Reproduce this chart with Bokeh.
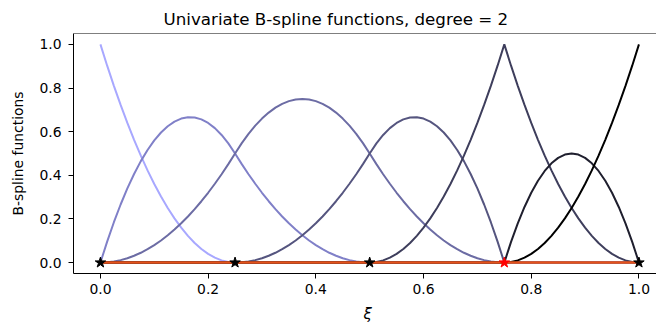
from bokeh.plotting import figure
from bokeh.models import Range1d, FixedTicker, PrintfTickFormatter, Span, Title
from bokeh.embed import file_html
from bokeh.resources import INLINE

# parameter samples
xi = [0.0, 0.0125, 0.025, 0.0375, 0.05, 0.0625, 0.075, 0.0875, 0.1, 0.1125,
      0.125, 0.1375, 0.15, 0.1625, 0.175, 0.1875, 0.2, 0.2125, 0.225, 0.2375,
      0.25, 0.2625, 0.275, 0.2875, 0.3, 0.3125, 0.325, 0.3375, 0.35, 0.3625,
      0.375, 0.3875, 0.4, 0.4125, 0.425, 0.4375, 0.45, 0.4625, 0.475, 0.4875,
      0.5, 0.5125, 0.525, 0.5375, 0.55, 0.5625, 0.575, 0.5875, 0.6, 0.6125,
      0.625, 0.6375, 0.65, 0.6625, 0.675, 0.6875, 0.7, 0.7125, 0.725, 0.7375,
      0.75, 0.7625, 0.775, 0.7875, 0.8, 0.8125, 0.825, 0.8375, 0.85, 0.8625,
      0.875, 0.8875, 0.9, 0.9125, 0.925, 0.9375, 0.95, 0.9625, 0.975, 0.9875,
      1.0]

# B-spline function values (one list per function)
basis0 = [1.0, 0.9025, 0.81, 0.7225, 0.64, 0.5625, 0.49, 0.4225, 0.36, 0.3025,
          0.25, 0.2025, 0.16, 0.1225, 0.09, 0.0625, 0.04, 0.0225, 0.01, 0.0025,
          0.0] + [0.0] * 60
basis1 = [0.0, 0.09625, 0.185, 0.26625, 0.34, 0.40625, 0.465, 0.51625, 0.56, 0.59625,
          0.625, 0.64625, 0.66, 0.66625, 0.665, 0.65625, 0.64, 0.61625, 0.585, 0.54625,
          0.5, 0.45125, 0.405, 0.36125, 0.32, 0.28125, 0.245, 0.21125, 0.18, 0.15125,
          0.125, 0.10125, 0.08, 0.06125, 0.045, 0.03125, 0.02, 0.01125, 0.005, 0.00125,
          0.0] + [0.0] * 40
basis2 = [0.0, 0.00125, 0.005, 0.01125, 0.02, 0.03125, 0.045, 0.06125, 0.08, 0.10125,
          0.125, 0.15125, 0.18, 0.21125, 0.245, 0.28125, 0.32, 0.36125, 0.405, 0.45125,
          0.5, 0.5475, 0.59, 0.6275, 0.66, 0.6875, 0.71, 0.7275, 0.74, 0.7475,
          0.75, 0.7475, 0.74, 0.7275, 0.71, 0.6875, 0.66, 0.6275, 0.59, 0.5475,
          0.5, 0.45125, 0.405, 0.36125, 0.32, 0.28125, 0.245, 0.21125, 0.18, 0.15125,
          0.125, 0.10125, 0.08, 0.06125, 0.045, 0.03125, 0.02, 0.01125, 0.005, 0.00125,
          0.0] + [0.0] * 20
basis3 = [0.0] * 20 + [
          0.0, 0.00125, 0.005, 0.01125, 0.02, 0.03125, 0.045, 0.06125, 0.08, 0.10125,
          0.125, 0.15125, 0.18, 0.21125, 0.245, 0.28125, 0.32, 0.36125, 0.405, 0.45125,
          0.5, 0.54625, 0.585, 0.61625, 0.64, 0.65625, 0.665, 0.66625, 0.66, 0.64625,
          0.625, 0.59625, 0.56, 0.51625, 0.465, 0.40625, 0.34, 0.26625, 0.185, 0.09625,
          0.0] + [0.0] * 20
basis4 = [0.0] * 40 + [
          0.0, 0.0025, 0.01, 0.0225, 0.04, 0.0625, 0.09, 0.1225, 0.16, 0.2025,
          0.25, 0.3025, 0.36, 0.4225, 0.49, 0.5625, 0.64, 0.7225, 0.81, 0.9025,
          1.0, 0.9025, 0.81, 0.7225, 0.64, 0.5625, 0.49, 0.4225, 0.36, 0.3025,
          0.25, 0.2025, 0.16, 0.1225, 0.09, 0.0625, 0.04, 0.0225, 0.01, 0.0025,
          0.0]
basis5 = [0.0] * 60 + [
          0.0, 0.095, 0.18, 0.255, 0.32, 0.375, 0.42, 0.455, 0.48, 0.495,
          0.5, 0.495, 0.48, 0.455, 0.42, 0.375, 0.32, 0.255, 0.18, 0.095,
          0.0]
basis6 = [0.0] * 60 + [
          0.0, 0.0025, 0.01, 0.0225, 0.04, 0.0625, 0.09, 0.1225, 0.16, 0.2025,
          0.25, 0.3025, 0.36, 0.4225, 0.49, 0.5625, 0.64, 0.7225, 0.81, 0.9025,
          1.0]

basis_colors = ["#a8a8ff", "#8080c8", "#6c6ca4", "#55557f", "#3e3e5c", "#1f1f2e", "#000000"]

# knots
knots = [0.0, 0.25, 0.5, 0.75, 1.0]
knot_y = [0.0, 0.0, 0.0, 0.0, 0.0]
knot_colors = ["black", "black", "black", "red", "black"]

baseline_x = [0.0, 1.0]
baseline_y = [0.0, 0.0]

xticks = [0.0, 0.2, 0.4, 0.6, 0.8, 1.0]
yticks = [0.0, 0.2, 0.4, 0.6, 0.8, 1.0]

FONT = "DejaVu Sans"

p = figure(width=656, height=330,
           x_range=Range1d(-0.05, 1.0326), y_range=Range1d(-0.05, 1.05),
           output_backend="svg", toolbar_location=None,
           min_border_left=73, min_border_right=0,
           min_border_top=33, min_border_bottom=57)

p.title.text = "Univariate B-spline functions, degree = 2"
p.title.text_font = FONT
p.title.text_font_size = "16.7px"
p.title.text_font_style = "normal"
p.title.text_color = "black"
p.title.align = "left"
p.title.offset = 90
p.title.standoff = 9

p.outline_line_color = None
p.xgrid.visible = False
p.ygrid.visible = False
p.background_fill_color = "white"
p.border_fill_color = "white"

for b, c in zip([basis0, basis1, basis2, basis3, basis4, basis5, basis6], basis_colors):
    p.line(xi, b, line_color=c, line_width=2)

p.line(baseline_x, baseline_y, line_color="#e4521b", line_width=2.5)
p.scatter(knots, knot_y, marker="star", size=11,
          fill_color=knot_colors, line_color=knot_colors)

p.add_layout(Span(location=1.05, dimension="width", line_color="black", line_width=1))

for ax in (p.xaxis, p.yaxis):
    ax.major_tick_in = 0
    ax.major_tick_out = 5
    ax.minor_tick_line_color = None
    ax.major_tick_line_color = "black"
    ax.axis_line_color = "black"
    ax.major_label_text_font = FONT
    ax.major_label_text_font_size = "13.9px"
    ax.major_label_text_color = "black"
    ax.axis_label_text_font = FONT
    ax.axis_label_text_font_size = "13.9px"
    ax.axis_label_text_font_style = "normal"
    ax.axis_label_text_color = "black"

p.xaxis.major_label_standoff = 5
p.yaxis.major_label_standoff = 7

p.xaxis.ticker = FixedTicker(ticks=xticks)
p.yaxis.ticker = FixedTicker(ticks=yticks)
p.xaxis.formatter = PrintfTickFormatter(format="%.1f")
p.yaxis.formatter = PrintfTickFormatter(format="%.1f")
p.yaxis.axis_label = "B-spline functions"
p.yaxis.axis_label_standoff = 10

xlabel = Title(text="ξ", align="left", offset=290, standoff=13,
               text_font=FONT, text_font_size="15px", text_font_style="italic",
               text_color="black")
p.add_layout(xlabel, "below")

open("out.html", "w").write(file_html(p, INLINE))
